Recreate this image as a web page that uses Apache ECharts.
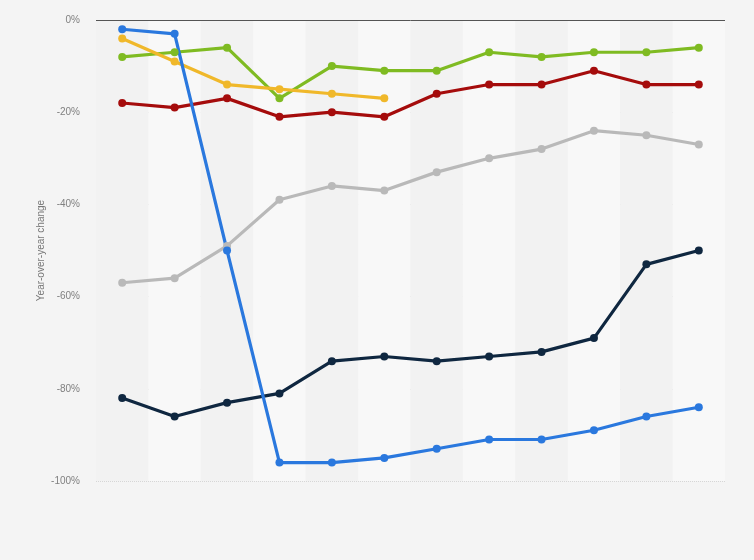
<!DOCTYPE html>
<html>
<head>
<meta charset="utf-8">
<script src="https://cdn.jsdelivr.net/npm/echarts@6/dist/echarts.min.js"></script>
<style>
html,body{margin:0;padding:0;background:#f4f4f4;}
#chart{width:754px;height:560px;}
</style>
</head>
<body>
<div id="chart"></div>
<script>
var categories = ['1','2','3','4','5','6','7','8','9','10','11','12'];
var yTicks = [0, -20, -40, -60, -80, -100];
var blueSeries   = [-2, -3, -50, -96, -96, -95, -93, -91, -91, -89, -86, -84];
var yellowSeries = [-4, -9, -14, -15, -16, -17];
var greenSeries  = [-8, -7, -6, -17, -10, -11, -11, -7, -8, -7, -7, -6];
var redSeries    = [-18, -19, -17, -21, -20, -21, -16, -14, -14, -11, -14, -14];
var graySeries   = [-57, -56, -49, -39, -36, -37, -33, -30, -28, -24, -25, -27];
var navySeries   = [-82, -86, -83, -81, -74, -73, -74, -73, -72, -69, -53, -50];

function mk(name, data, color) {
  return {
    name: name, type: 'line', data: data,
    symbol: 'circle', symbolSize: 8,
    lineStyle: { width: 3.2, color: color },
    itemStyle: { color: color },
    emphasis: { disabled: true },
    animation: false
  };
}

var chart = echarts.init(document.getElementById('chart'));
chart.setOption({
  backgroundColor: '#f4f4f4',
  grid: { left: 96, right: 29, top: 20, bottom: 79 },
  xAxis: {
    type: 'category', data: categories, boundaryGap: true,
    axisLine: { show: false }, axisTick: { show: false }, axisLabel: { show: false },
    splitLine: { show: false },
    splitArea: { show: true, areaStyle: { color: ['#f2f2f2', '#f8f8f8'] } }
  },
  yAxis: {
    type: 'value', min: -100, max: 0, interval: 20,
    name: 'Year-over-year change', nameLocation: 'middle', nameGap: 50,
    nameMoveOverlap: false,
    nameTextStyle: { color: '#777', fontSize: 10, fontFamily: 'Arial, Liberation Sans' },
    axisLine: { show: false }, axisTick: { show: false },
    axisLabel: {
      color: '#808080', fontSize: 10, fontFamily: 'Arial, Liberation Sans', margin: 16,
      formatter: function (v) { return yTicks.indexOf(v) >= 0 ? v + '%' : ''; }
    },
    splitLine: { show: true, lineStyle: { color: '#d6d6d6', type: 'dotted', width: 1 } }
  },
  series: [
    {
      type: 'line', data: [], silent: true,
      markLine: {
        silent: true, symbol: 'none', label: { show: false },
        lineStyle: { color: '#555', type: 'solid', width: 1 },
        data: [{ yAxis: 0 }], animation: false
      }
    },
    mk('Gray', graySeries, '#b9b9b9'),
    mk('Navy', navySeries, '#0f2740'),
    mk('Red', redSeries, '#a50c0c'),
    mk('Green', greenSeries, '#7fbb22'),
    mk('Yellow', yellowSeries, '#f0b82a'),
    mk('Blue', blueSeries, '#2a78de')
  ]
});
</script>
</body>
</html>
